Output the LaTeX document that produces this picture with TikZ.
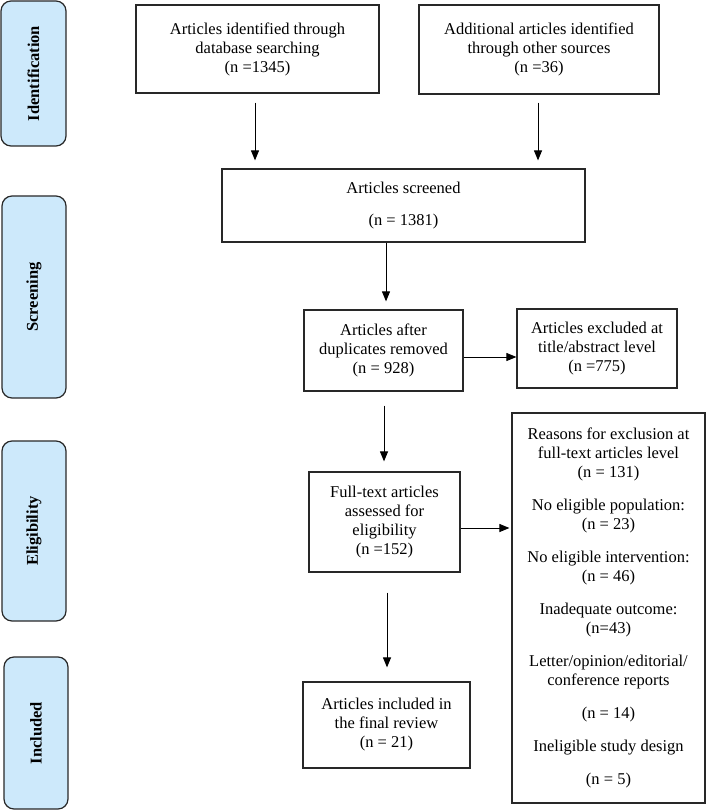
\documentclass[tikz,border=0pt]{standalone}
\usepackage{fontspec}
\setmainfont{Liberation Serif}
\usetikzlibrary{arrows.meta,calc}
\definecolor{sideblue}{RGB}{205,233,251}
\definecolor{linec}{RGB}{40,40,40}
\begin{document}
\begin{tikzpicture}[x=1pt,y=-1pt,
  box/.style={draw=linec, line width=1.2pt, inner sep=0pt, align=center, font=\fontsize{16.5}{19}\selectfont},
  side/.style={draw=linec, line width=1.2pt, fill=sideblue, rounded corners=10pt, rotate=90, inner sep=0pt, font=\fontsize{16.5}{19}\selectfont\bfseries},
  arr/.style={draw=black, line width=1pt, -{Triangle[length=10pt,width=8pt]}}]
\useasboundingbox (0,0) rectangle (706,810);

% side labels
\node[side, minimum width=145, minimum height=65] (sid) at (33.5,73.5) {Identification};
\node[side, minimum width=202, minimum height=64] (ssc) at (34,297) {Screening};
\node[side, minimum width=180, minimum height=64] (sel) at (34,531) {Eligibility};
\node[side, minimum width=152, minimum height=64] (sin) at (36,733) {Included};

% boxes
\node[box, minimum width=243, minimum height=88] (b1) at (257.5,49) {Articles identified through\\database searching\\(n =1345)};
\node[box, minimum width=240, minimum height=89] (b2) at (539,49.5) {Additional articles identified\\through other sources\\(n =36)};
\node[box, minimum width=363, minimum height=73] (scr) at (403.5,205.5) {Articles screened\\[13pt](n = 1381)};
\node[box, minimum width=159, minimum height=81] (dup) at (383.5,350.5) {Articles after\\duplicates removed\\(n = 928)};
\node[box, minimum width=160, minimum height=79] (exc) at (597,348.5) {Articles excluded at\\title/abstract level\\(n =775)};
\node[box, minimum width=151, minimum height=100] (ft) at (384.5,522) {Full-text articles\\assessed for\\eligibility\\(n =152)};
\node[box, minimum width=193, minimum height=390] (rea) at (608.5,608) {Reasons for exclusion at\\full-text articles level\\(n = 131)\\[14pt]No eligible population:\\(n = 23)\\[14pt]No eligible intervention:\\(n = 46)\\[14pt]Inadequate outcome:\\(n=43)\\[14pt]Letter/opinion/editorial/\\conference reports\\[14pt](n = 14)\\[14pt]Ineligible study design\\[14pt](n = 5)};
\node[box, minimum width=167, minimum height=86] (inc) at (386.5,725) {Articles included in\\the final review\\(n = 21)};

% helper coordinates for connector positions
\coordinate (xa) at (255,0);
\coordinate (xb) at (538,0);
\coordinate (xc) at (386,0);
\coordinate (xd) at (384,0);
\coordinate (xe) at (387,0);
\coordinate (ya) at (0,357);
\coordinate (yb) at (0,528);

% connectors
\draw[arr, shorten <=9pt, shorten >=8pt] (b1.south -| xa) -- (scr.north -| xa);
\draw[arr, shorten <=8pt, shorten >=8pt] (b2.south -| xb) -- (scr.north -| xb);
\draw[arr, shorten >=8pt] (scr.south -| xc) -- (dup.north -| xc);
\draw[arr] (dup.east |- ya) -- (exc.west |- ya);
\draw[arr, shorten <=14pt, shorten >=10pt] (dup.south -| xd) -- (ft.north -| xd);
\draw[arr, shorten >=2pt] (ft.east |- yb) -- (rea.west |- yb);
\draw[arr, shorten <=20pt, shorten >=14pt] (ft.south -| xe) -- (inc.north -| xe);
\end{tikzpicture}
\end{document}
